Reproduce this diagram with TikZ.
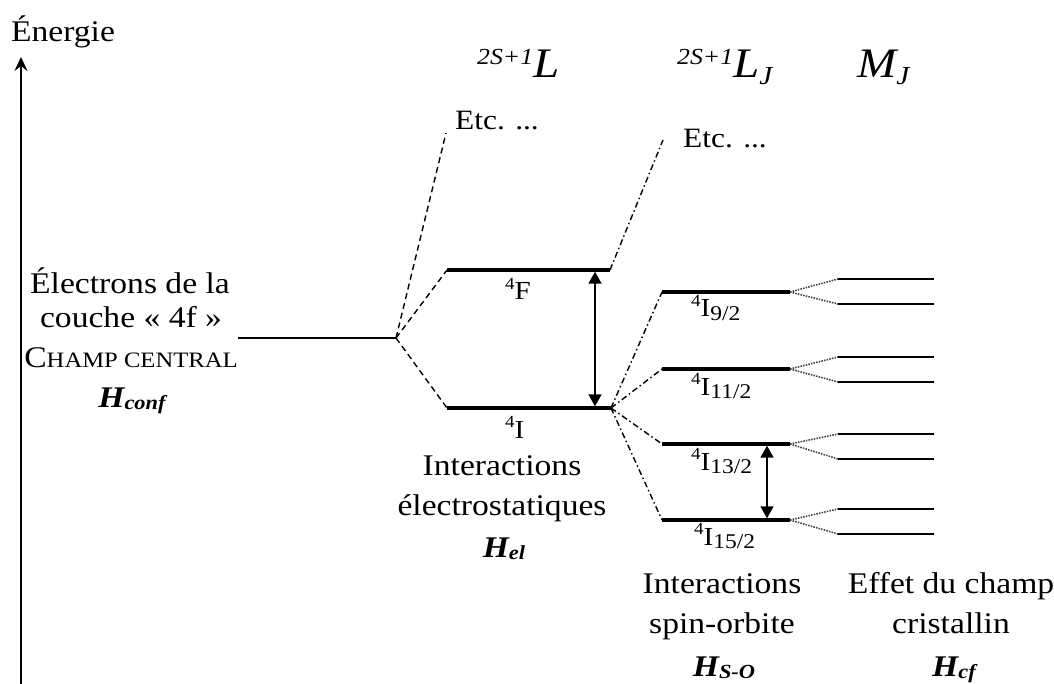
\documentclass[tikz,border=0pt]{standalone}
\usepackage{fontspec}
\setmainfont{Liberation Serif}[FakeStretch=1.12]
\usetikzlibrary{arrows.meta}
\newcommand{\fsz}[1]{\fontsize{#1}{#1}\selectfont}
\newcommand{\lev}[3]{\raisebox{0.42em}{\fsz{17}#1}#2\raisebox{-0.14em}{\fsz{21}#3}}
\newcommand{\ham}[2]{{\bfseries\itshape H\raisebox{-2pt}{\fsz{20}#1}}}
\begin{document}
\begin{tikzpicture}[x=1pt,y=-1pt,
  txt/.style={font=\fsz{30}, inner sep=0, anchor=base},
  lbl/.style={font=\fsz{26}, inner sep=0, anchor=base west},
  hdr/.style={font=\fsz{42}\itshape, inner sep=0, anchor=base west},
  lvl/.style={line width=3.3pt},
  cf/.style={line width=2.8pt},
  dsh/.style={line width=1.4pt, dash pattern=on 6pt off 4pt},
  dd/.style={line width=1.4pt, dash pattern=on 6pt off 3pt on 1.5pt off 3pt},
  dott/.style={line width=1.6pt, dash pattern=on 1.5pt off 1.2pt, black!75},
  dbl/.style={line width=1.6pt, {Triangle[length=12pt,width=13pt]}-{Triangle[length=12pt,width=13pt]}, shorten <=1.7pt, shorten >=1.7pt}
]
\useasboundingbox (0,0) rectangle (1054,684);

% axis
\coordinate (ax0) at (21,684);
\coordinate (ax1) at (21,57);
\draw[line width=1.7pt,-{Stealth[length=14pt,width=13pt,inset=5pt]}] (ax0) -- (ax1);
\node[txt] (energie) at (63,42) {Énergie};

% left text
\node[txt] (t1) at (130,294) {Électrons de la};
\node[txt] (t2) at (131,327) {couche « 4f »};
\node[txt] (t3) at (131,367) {C{\fsz{22}HAMP CENTRAL}};
\node[txt] (t4) at (132,407) {\ham{conf}{}};

% headers
\node[hdr] (h1) at (477,78) {\raisebox{13pt}{\fsz{23}2S+1}L};
\node[hdr] (h2) at (677,78) {\raisebox{13pt}{\fsz{23}2S+1}L\raisebox{-7pt}{\fsz{26}J}};
\node[hdr] (h3) at (857,78) {M\raisebox{-7pt}{\fsz{26}J}};

% central field level
\coordinate (c0) at (238,338);
\coordinate (sp) at (396,338);
\draw[line width=1.7pt] (c0) -- (sp);

% L levels
\coordinate (F0) at (447,270); \coordinate (F1) at (610,270);
\coordinate (I0) at (447,408); \coordinate (I1) at (611,408);
\coordinate (etc1) at (446,133);
\coordinate (etc2) at (663,140);
\draw[dsh] (sp) -- (F0);
\draw[dsh] (sp) -- (I0);
\draw[dsh] (sp) -- (etc1);
\draw[lvl] (F0) -- (F1);
\draw[lvl] (I0) -- (I1);
\coordinate (aF) at (595,270); \coordinate (aI) at (595,408);
\draw[dbl] (aF) -- (aI);
\node[txt] (etcA) at (455,130) [anchor=base west, font=\fsz{28}] {Etc. ...};
\node[txt] (etcB) at (683,148) [anchor=base west, font=\fsz{28}] {Etc. ...};
\node[lbl] (lF) at (505,300) {\lev{4}{F}{}};
\node[lbl] (lI) at (505,438) {\lev{4}{I}{}};

\node[txt] (m1) at (502,475) {Interactions};
\node[txt] (m2) at (502,515) {électrostatiques};
\node[txt] (m3) at (504,557) {\ham{el}{}};

% J levels
\draw[dd] (F1) -- (etc2);
\foreach \n/\y in {9/292,11/369,13/444,15/520}{
  \coordinate (J\n a) at (662,\y);
  \coordinate (J\n b) at (790,\y);
  \draw[dd] (I1) -- (J\n a);
  \draw[lvl] (J\n a) -- (J\n b);
}
\node[lbl] (l9) at (691,317) {\lev{4}{I}{9/2}};
\node[lbl] (l11) at (691,395) {\lev{4}{I}{11/2}};
\node[lbl] (l13) at (691,470) {\lev{4}{I}{13/2}};
\node[lbl] (l15) at (694,545) {\lev{4}{I}{15/2}};
\coordinate (a13) at (767,444); \coordinate (a15) at (767,520);
\draw[dbl] (a13) -- (a15);

\node[txt] (s1) at (722,593) {Interactions};
\node[txt] (s2) at (722,633) {spin-orbite};
\node[txt] (s3) at (724,676) {\ham{S-O}{}};

% crystal field
\foreach \n/\u/\d in {9/279/304,11/357/382,13/434/459,15/509/534}{
  \coordinate (K\n u0) at (838,\u); \coordinate (K\n u1) at (934,\u);
  \coordinate (K\n d0) at (838,\d); \coordinate (K\n d1) at (934,\d);
  \draw[dott] (J\n b) -- (K\n u0);
  \draw[dott] (J\n b) -- (K\n d0);
  \draw[cf] (K\n u0) -- (K\n u1);
  \draw[cf] (K\n d0) -- (K\n d1);
}
\node[txt] (e1) at (951,593) {Effet du champ};
\node[txt] (e2) at (951,633) {cristallin};
\node[txt] (e3) at (954,676) {\ham{cf}{}};
\end{tikzpicture}
\end{document}
